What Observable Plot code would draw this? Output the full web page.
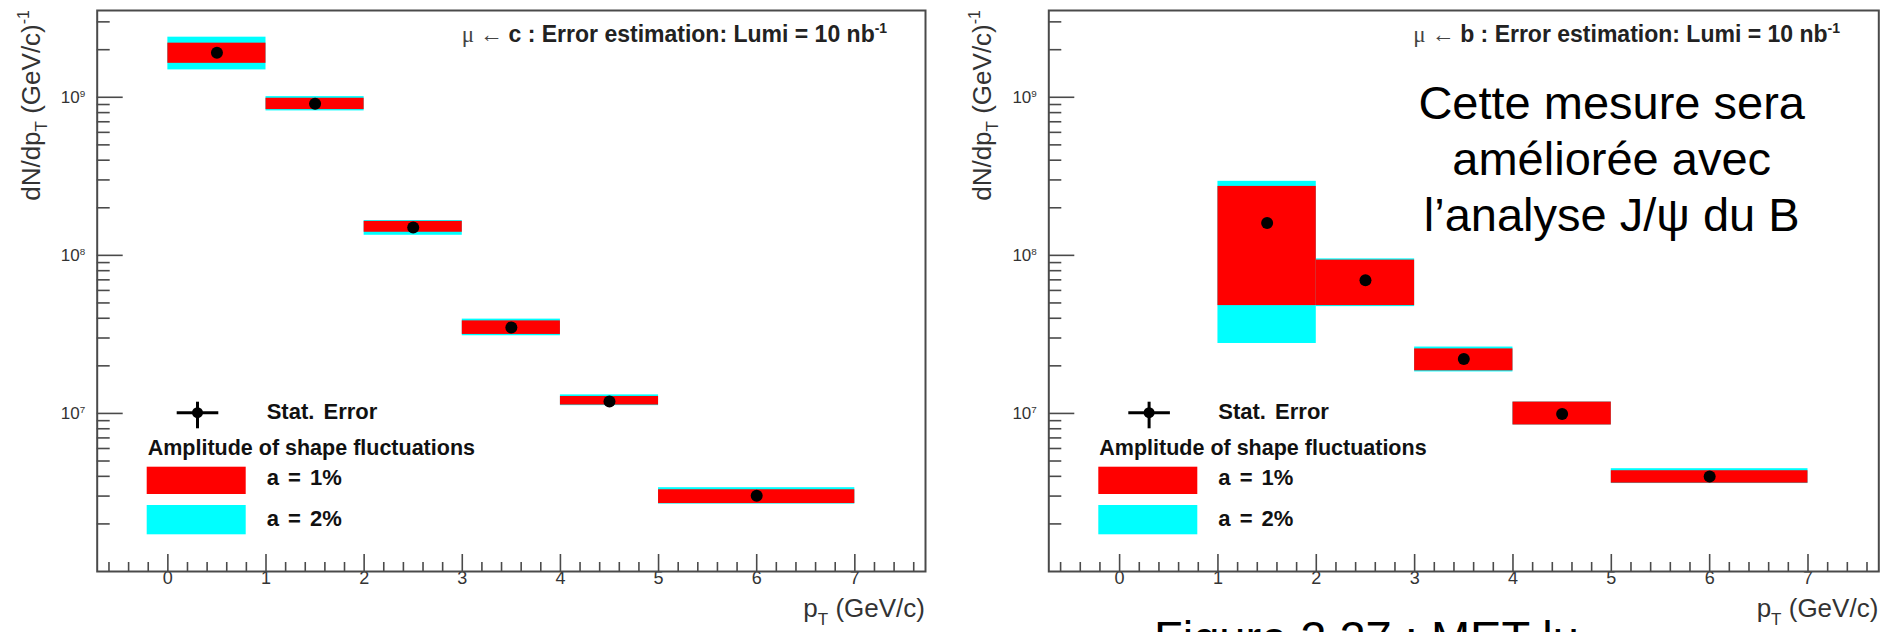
<!DOCTYPE html>
<html>
<head>
<meta charset="utf-8">
<script src="https://cdn.jsdelivr.net/npm/d3@7"></script>
<script src="https://cdn.jsdelivr.net/npm/@observablehq/plot@0.6"></script>
<style>
  html, body { margin: 0; padding: 0; background: #fff; }
  #page { position: relative; width: 1892px; height: 632px; overflow: hidden; }
  #page svg { position: absolute; top: 0; }
</style>
</head>
<body>
<div id="page"></div>
<script>
// ---- pT bins (GeV/c) ----
const charmBinLo = [0, 1, 2, 3, 4, 5];
const charmBinHi = [1, 2, 3, 4, 5, 7];
const beautyBinLo = [1, 2, 3, 4, 5];
const beautyBinHi = [2, 3, 4, 5, 7];

// ---- mu <- c : central values and shape-fluctuation bands ----
const charmValue = [1.91e9, 9.09e8, 1.50e8, 3.50e7, 1.19e7, 3.01e6];
const charmA1Lo  = [1.64e9, 8.36e8, 1.40e8, 3.16e7, 1.13e7, 2.69e6];
const charmA1Hi  = [2.20e9, 9.86e8, 1.64e8, 3.85e7, 1.28e7, 3.29e6];
const charmA2Lo  = [1.49e9, 8.20e8, 1.34e8, 3.10e7, 1.12e7, 2.67e6];
const charmA2Hi  = [2.40e9, 1.01e9, 1.66e8, 3.95e7, 1.31e7, 3.39e6];

// ---- mu <- b : central values and shape-fluctuation bands ----
const beautyValue = [1.60e8, 6.95e7, 2.21e7, 9.9e6, 3.99e6];
const beautyA1Lo  = [4.81e7, 4.81e7, 1.86e7, 8.45e6, 3.62e6];
const beautyA1Hi  = [2.73e8, 9.33e7, 2.56e7, 1.18e7, 4.34e6];
const beautyA2Lo  = [2.77e7, 4.74e7, 1.83e7, 8.45e6, 3.60e6];
const beautyA2Hi  = [2.94e8, 9.50e7, 2.63e7, 1.18e7, 4.47e6];

// ---- axes ----
const xDomain = [-0.72, 7.72];
const yDomain = [1e6, 3.54e9];
const xMajor = [0, 1, 2, 3, 4, 5, 6, 7];
const xMinor = d3.range(-3, 39).filter(i => i % 5 !== 0).map(i => i / 5);
const yMajor = [1e7, 1e8, 1e9];
const yMinor = [1e6, 1e7, 1e8].flatMap(p => [2, 3, 4, 5, 6, 7, 8, 9].map(k => k * p)).concat([2e9, 3e9]);

// ---- text ----
const legendStat = "Stat. Error";
const legendTitle = "Amplitude of shape fluctuations";
const legendA1 = "a = 1%";
const legendA2 = "a = 2%";
const xTitle = ["p", "T", " (GeV/c)"];
const yTitle = ["dN/dp", "T", " (GeV/c)", "-1"];
const noteLines = ["Cette mesure sera", "améliorée avec", "l’analyse J/ψ du B"];
const captionText = "Figure 2.27 : MET lu";

const RED = "#ff0000", CYAN = "#00ffff", INK = "#4a4a4a";
const FONT = "'Liberation Sans', Arial, Helvetica, sans-serif";
const PANEL_W = 946, PAGE_H = 632, MT = 10, MB = 61;

function buildPanel(cfg) {
  const fw = PANEL_W - cfg.marginLeft - cfg.marginRight;
  const fh = PAGE_H - MT - MB;
  const rows = cfg.lo.map((lo, i) => ({
    lo, hi: cfg.hi[i], mid: (lo + cfg.hi[i]) / 2, v: cfg.value[i],
    a1lo: cfg.a1Lo[i], a1hi: cfg.a1Hi[i], a2lo: cfg.a2Lo[i], a2hi: cfg.a2Hi[i]
  }));
  const chart = Plot.plot({
    width: PANEL_W, height: PAGE_H,
    marginLeft: cfg.marginLeft, marginRight: cfg.marginRight, marginTop: MT, marginBottom: MB,
    style: {fontFamily: FONT, background: "transparent", overflow: "visible"},
    x: {domain: xDomain},
    y: {type: "log", domain: yDomain},
    marks: [
      Plot.rect(rows, {x1: "lo", x2: "hi", y1: "a2lo", y2: "a2hi", fill: CYAN}),
      Plot.rect(rows, {x1: "lo", x2: "hi", y1: "a1lo", y2: "a1hi", fill: RED}),
      Plot.dot(rows, {x: "mid", y: "v", r: 6, fill: "#000", stroke: null}),
      // inward ROOT-style ticks
      Plot.tickY(yMajor, {y: d => d, insetRight: fw - 26, stroke: INK, strokeWidth: 1.6}),
      Plot.tickY(yMinor, {y: d => d, insetRight: fw - 13, stroke: INK, strokeWidth: 1.6}),
      Plot.tickX(xMajor, {x: d => d, insetTop: fh - 17, stroke: INK, strokeWidth: 1.6}),
      Plot.tickX(xMinor, {x: d => d, insetTop: fh - 9, stroke: INK, strokeWidth: 1.6}),
      Plot.axisX(xMajor, {tickSize: 0, tickPadding: 0, fontSize: 18, fill: "#333", label: null}),
      Plot.axisY(yMajor, {tickSize: 0, tickPadding: 12, fontSize: 17, fill: "#333", label: null,
        tickFormat: d => "10^" + Math.round(Math.log10(d))}),
      Plot.frame({stroke: INK, strokeWidth: 2})
    ]
  });
  const svg = d3.select(chart);

  // superscript exponents on y tick labels
  svg.selectAll('g[aria-label="y-axis tick label"] text').each(function () {
    const t = d3.select(this);
    const [base, exp] = t.text().split("^");
    t.text(base);
    t.append("tspan").attr("dy", "-0.55em").attr("font-size", "0.58em").text(exp);
  });

  const fx = cfg.marginLeft;
  const fr = PANEL_W - cfg.marginRight;

  // y title
  const yt = svg.append("text")
    .attr("transform", `translate(${fx - 57},${MT}) rotate(-90)`)
    .attr("text-anchor", "end").attr("font-family", FONT).attr("font-size", 26).attr("fill", "#333");
  yt.append("tspan").text(yTitle[0]);
  yt.append("tspan").attr("dy", 7).attr("font-size", 17).text(yTitle[1]);
  yt.append("tspan").attr("dy", -7).text(yTitle[2]);
  yt.append("tspan").attr("dy", -11).attr("font-size", 16).text(yTitle[3]);

  // x title
  const xt = svg.append("text")
    .attr("x", fr).attr("y", 617)
    .attr("text-anchor", "end").attr("font-family", FONT).attr("font-size", 26).attr("fill", "#333");
  xt.append("tspan").text(xTitle[0]);
  xt.append("tspan").attr("dy", 8).attr("font-size", 17).text(xTitle[1]);
  xt.append("tspan").attr("dy", -8).text(xTitle[2]);

  // header
  const hd = svg.append("text")
    .attr("x", fx + 365).attr("y", 42).attr("text-anchor", "start")
    .attr("font-family", FONT).attr("font-size", 23).attr("fill", "#222");
  hd.append("tspan").attr("font-family", "'Liberation Serif', 'DejaVu Serif', serif").attr("fill", "#444").text("μ ← ");
  hd.append("tspan").attr("font-weight", "bold").text(cfg.source + " : Error estimation: Lumi = 10 nb");
  hd.append("tspan").attr("font-weight", "bold").attr("font-size", 14).attr("dy", -9).text("-1");

  // legend
  const lg = svg.append("g").attr("text-anchor", "start").attr("font-family", FONT)
    .attr("font-weight", "bold").attr("font-size", 22).attr("fill", "#111");
  lg.append("line").attr("x1", fx + 80).attr("x2", fx + 121.6).attr("y1", 412.7).attr("y2", 412.7).attr("stroke", "#000").attr("stroke-width", 3);
  lg.append("line").attr("x1", fx + 100.8).attr("x2", fx + 100.8).attr("y1", 401.7).attr("y2", 428.3).attr("stroke", "#000").attr("stroke-width", 3);
  lg.append("circle").attr("cx", fx + 100.8).attr("cy", 412.7).attr("r", 5.5).attr("fill", "#000");
  lg.append("text").attr("x", fx + 170).attr("y", 418.5).attr("word-spacing", 3).text(legendStat);
  lg.append("text").attr("x", fx + 51).attr("y", 455).attr("font-size", 21.5).text(legendTitle);
  lg.append("rect").attr("x", fx + 50).attr("y", 466.7).attr("width", 99).attr("height", 27.3).attr("fill", RED);
  lg.append("text").attr("x", fx + 170).attr("y", 485).attr("word-spacing", 3).text(legendA1);
  lg.append("rect").attr("x", fx + 50).attr("y", 505).attr("width", 99).attr("height", 29.3).attr("fill", CYAN);
  lg.append("text").attr("x", fx + 170).attr("y", 525.7).attr("word-spacing", 3).text(legendA2);

  if (cfg.note) {
    const nt = svg.append("text").attr("font-family", FONT).attr("font-size", 47).attr("fill", "#000").attr("text-anchor", "middle");
    const bases = [119, 175, 231];
    cfg.note.forEach((line, i) => nt.append("tspan").attr("x", fx + 563.4).attr("y", bases[i]).text(line));
  }
  if (cfg.caption) {
    svg.append("text").attr("x", fx + 105.7).attr("y", 654).attr("text-anchor", "start")
      .attr("font-family", FONT).attr("font-size", 47).attr("fill", "#000").text(cfg.caption);
  }

  chart.style.left = cfg.left + "px";
  return chart;
}

const page = document.getElementById("page");
page.appendChild(buildPanel({
  left: 0, marginLeft: 96.7, marginRight: 21, source: "c",
  lo: charmBinLo, hi: charmBinHi, value: charmValue,
  a1Lo: charmA1Lo, a1Hi: charmA1Hi, a2Lo: charmA2Lo, a2Hi: charmA2Hi
}));
page.appendChild(buildPanel({
  left: 946, marginLeft: 102.3, marginRight: 13.7, source: "b",
  lo: beautyBinLo, hi: beautyBinHi, value: beautyValue,
  a1Lo: beautyA1Lo, a1Hi: beautyA1Hi, a2Lo: beautyA2Lo, a2Hi: beautyA2Hi,
  note: noteLines, caption: captionText
}));
</script>
</body>
</html>
